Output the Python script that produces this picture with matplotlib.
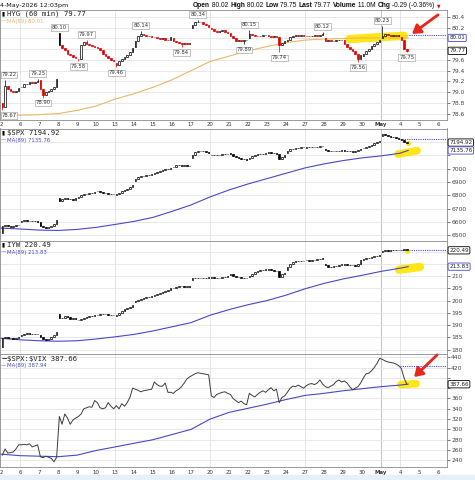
import matplotlib
matplotlib.use("Agg")
import matplotlib.pyplot as plt
import matplotlib.transforms as mtransforms
from matplotlib.patches import Rectangle
import numpy as np

W, H = 475, 480

# trading days on the x axis (2-Apr-2026 .. 6-May-2026), 7 hourly bars per day
day_labels = ["2", "6", "7", "8", "9", "10", "13", "14", "15", "16", "17", "20", "21",
              "22", "23", "24", "27", "28", "29", "30", "May", "4", "5", "6"]
week_lines = [1, 6, 11, 16, 20, 21]

# HYG 60 min closes, one row per day
hyg_close = [
    [78.72, 79.12, 79.05, 79.02, 79.00, 79.03, 79.08],
    [79.10, 79.15, 79.16, 79.18, 79.17, 79.19, 79.20],
    [79.05, 78.95, 79.00, 79.03, 79.06, 79.10, 79.24],
    [79.88, 79.82, 79.78, 79.72, 79.70, 79.66, 79.64],
    [79.62, 79.88, 79.93, 79.90, 79.88, 79.86, 79.84],
    [79.82, 79.78, 79.72, 79.68, 79.64, 79.60, 79.58],
    [79.50, 79.58, 79.62, 79.65, 79.70, 79.75, 79.82],
    [79.95, 80.05, 80.08, 80.06, 80.05, 80.04, 80.03],
    [80.02, 80.01, 79.99, 80.00, 79.98, 79.97, 80.02],
    [79.96, 79.93, 79.92, 79.90, 79.91, 79.90, 79.92],
    [80.25, 80.30, 80.31, 80.30, 80.27, 80.25, 80.22],
    [80.18, 80.14, 80.12, 80.14, 80.15, 80.13, 80.10],
    [80.05, 80.00, 79.96, 79.98, 79.95, 79.97, 79.98],
    [80.08, 80.06, 80.05, 80.05, 80.04, 80.06, 80.07],
    [80.05, 80.03, 80.04, 80.02, 79.88, 79.92, 79.95],
    [79.97, 80.02, 80.05, 80.06, 80.05, 80.06, 80.05],
    [80.05, 80.04, 80.05, 80.06, 80.05, 80.07, 80.08],
    [79.96, 79.97, 79.96, 79.96, 79.97, 79.97, 79.98],
    [79.90, 79.85, 79.80, 79.76, 79.72, 79.62, 79.70],
    [79.72, 79.76, 79.80, 79.86, 79.90, 79.93, 79.98],
    [80.05, 80.08, 80.06, 80.05, 80.06, 80.04, 80.06],
    [79.98, 79.80, 79.77],
]
hyg_day_open = [78.80, 79.10, 79.22, 80.10, 79.62, 79.84, 79.55, 79.85, 80.03, 80.00, 80.20,
                80.20, 80.10, 80.00, 80.07, 79.95, 80.05, 80.00, 79.98, 79.68, 80.00, 80.02]
hyg_ma = [78.55, 78.57, 78.58, 78.60, 78.66, 78.74, 78.87, 78.97, 79.09, 79.23, 79.40, 79.57,
          79.67, 79.77, 79.85, 79.92, 79.97, 79.99, 80.00, 80.01, 80.01, 80.01, 80.01]
# labelled swing highs / lows: (bar, value, kind)
hyg_marks = [(1, 79.22, "H"), (0, 78.67, "L"), (13, 79.25, "H"), (15, 78.90, "L"),
             (21, 80.10, "H"), (31, 79.97, "H"), (28, 79.58, "L"), (42, 79.46, "L"),
             (51, 80.14, "H"), (66, 79.84, "L"), (72, 80.34, "H"), (89, 79.89, "L"),
             (91, 80.15, "H"), (102, 79.74, "L"), (118, 80.12, "H"), (131, 79.56, "L"),
             (140, 80.23, "H"), (149, 79.75, "L")]

spx_close = [
    [6570, 6575, 6568, 6565, 6570, 6575, 6580],
    [6605, 6612, 6608, 6605, 6610, 6606, 6604],
    [6570, 6560, 6555, 6565, 6570, 6585, 6612],
    [6755, 6770, 6780, 6770, 6775, 6768, 6782],
    [6785, 6800, 6810, 6808, 6815, 6820, 6825],
    [6832, 6825, 6820, 6815, 6812, 6810, 6808],
    [6810, 6820, 6830, 6840, 6850, 6860, 6880],
    [6920, 6935, 6945, 6948, 6950, 6955, 6960],
    [6965, 6975, 6985, 6990, 6995, 7000, 7005],
    [7015, 7025, 7030, 7022, 7025, 7020, 7018],
    [7100, 7125, 7135, 7130, 7128, 7122, 7118],
    [7105, 7100, 7102, 7105, 7108, 7110, 7112],
    [7110, 7095, 7085, 7080, 7075, 7070, 7068],
    [7080, 7095, 7105, 7108, 7110, 7112, 7115],
    [7122, 7118, 7115, 7110, 7070, 7085, 7100],
    [7130, 7145, 7150, 7152, 7155, 7158, 7160],
    [7158, 7160, 7162, 7160, 7165, 7168, 7172],
    [7140, 7135, 7130, 7128, 7132, 7135, 7138],
    [7135, 7130, 7128, 7125, 7130, 7140, 7150],
    [7155, 7165, 7170, 7180, 7190, 7200, 7210],
    [7258, 7250, 7245, 7240, 7235, 7228, 7222],
    [7215, 7200, 7194.92],
]
spx_day_open = [6515, 6600, 6600, 6780, 6780, 6830, 6800, 6905, 6962, 7010, 7080,
                7100, 7115, 7075, 7120, 7120, 7155, 7150, 7140, 7152, 7245, 7222]
spx_ma = [6555, 6548, 6540, 6537, 6545, 6560, 6582, 6605, 6635, 6680, 6728, 6788,
          6840, 6885, 6925, 6965, 7005, 7035, 7060, 7080, 7095, 7115, 7135.76]

iyw_close = [
    [184.8, 185.2, 184.8, 184.6, 184.5, 184.7, 185.0],
    [185.8, 186.3, 186.6, 186.5, 186.2, 186.4, 186.3],
    [185.0, 184.2, 183.9, 184.5, 185.0, 185.8, 187.2],
    [193.0, 192.8, 193.5, 193.2, 192.5, 192.8, 192.3],
    [192.2, 192.6, 193.0, 193.2, 193.5, 193.8, 194.0],
    [194.3, 194.6, 194.5, 194.4, 194.3, 194.2, 194.0],
    [194.2, 195.0, 195.8, 196.5, 197.0, 197.5, 198.2],
    [199.8, 200.3, 200.8, 201.0, 201.3, 201.5, 201.8],
    [202.3, 202.8, 203.2, 203.5, 204.0, 204.5, 205.0],
    [205.2, 205.5, 205.8, 206.0, 205.6, 205.8, 205.5],
    [209.0, 209.3, 209.2, 209.0, 209.2, 209.4, 209.5],
    [209.6, 209.3, 209.0, 209.2, 209.5, 209.8, 210.0],
    [210.8, 210.2, 209.8, 209.5, 209.3, 209.0, 209.2],
    [210.0, 210.8, 211.5, 212.0, 212.3, 212.5, 212.8],
    [212.8, 212.6, 212.2, 212.0, 209.8, 210.8, 211.2],
    [213.5, 215.0, 215.8, 216.0, 216.2, 216.3, 216.2],
    [216.5, 216.3, 216.5, 216.7, 216.8, 217.0, 217.4],
    [214.5, 213.8, 213.6, 214.0, 214.3, 214.6, 214.8],
    [214.8, 214.5, 214.4, 214.6, 214.2, 214.8, 216.5],
    [216.8, 217.2, 217.5, 217.8, 218.0, 218.3, 218.6],
    [220.3, 220.6, 220.4, 220.5, 220.7, 220.8, 220.5],
    [220.8, 220.9, 220.49],
]
iyw_day_open = [181.0, 185.5, 186.0, 194.5, 192.0, 194.3, 193.8, 199.5, 202.0, 205.0, 208.5,
                209.4, 210.5, 209.6, 212.6, 212.5, 216.6, 215.0, 214.6, 216.5, 219.8, 220.6]
iyw_ma = [184.6, 184.0, 183.6, 183.4, 183.6, 184.3, 185.2, 186.2, 187.6, 189.3, 191.0, 194.0,
          196.3, 198.3, 200.0, 202.2, 204.8, 207.0, 208.8, 210.3, 211.9, 213.2, 213.83]

ratio_close = [
    [250, 262, 254, 255, 256, 262, 270],
    [270, 271, 270, 272, 266, 268, 270],
    [247, 245, 248, 246, 244, 237, 246],
    [325, 310, 330, 322, 310, 318, 322],
    [325, 330, 340, 342, 344, 343, 356],
    [352, 342, 340, 342, 352, 345, 340],
    [346, 340, 350, 345, 352, 362, 380],
    [378, 376, 373, 375, 376, 377, 378],
    [392, 387, 384, 384, 390, 372, 372],
    [370, 375, 378, 383, 390, 398, 402],
    [405, 408, 410, 409, 408, 407, 406],
    [365, 362, 368, 370, 372, 373, 370],
    [368, 360, 356, 352, 355, 350, 348],
    [370, 366, 363, 368, 372, 375, 372],
    [377, 381, 375, 378, 352, 362, 365],
    [372, 380, 384, 383, 386, 383, 380],
    [385, 388, 389, 387, 390, 396, 388],
    [383, 381, 384, 387, 393, 396, 392],
    [394, 390, 383, 377, 380, 383, 390],
    [400, 408, 409, 414, 420, 428, 438],
    [436, 433, 431, 430, 429, 427, 424],
    [418, 400, 387.66],
]
ratio_ma = [252, 249, 248, 247, 250, 259, 266, 273, 280, 290, 300, 320, 333, 341, 349, 358,
            366, 370, 375, 379, 383, 386, 387.94]

BLUE = "#4848c8"
ORANGE = "#e9b765"
YELLOW = "#ffe400"
RED = "#e8261c"

fig = plt.figure(figsize=(W / 100, H / 100), dpi=100)


def panel(top, bottom):
    return fig.add_axes([0, 1 - bottom / H, 447 / W, (bottom - top) / H])


def bar_x(n):
    j = np.arange(n)
    return j // 7 + (j % 7 + 0.5) / 7


ma_x = np.r_[np.arange(22), 21 + 3 / 7]


def setup(ax, ylim, ticks, fmt, show_dates):
    ax.set_xlim(-1 / 19, 446 / 19)
    ax.set_ylim(*ylim)
    ax.set_yticks(ticks)
    ax.set_yticklabels([fmt % t for t in ticks])
    ax.yaxis.tick_right()
    ax.tick_params(axis="y", length=2, width=0.5, colors="#444", labelsize=4.3, pad=1)
    ax.grid(axis="y", color="#e4e4e4", lw=0.6)
    for d in week_lines:
        ax.axvline(d, color="#b8b8b8" if d == 20 else "#e0e0e0", lw=0.6, zorder=0.6)
    ax.set_xticks(range(len(day_labels)))
    if show_dates:
        ax.set_xticklabels(day_labels)
        for lab in ax.get_xticklabels():
            if lab.get_text() == "May":
                lab.set_fontweight("bold")
    else:
        ax.set_xticklabels([])
    ax.tick_params(axis="x", length=0, labelsize=3.9, pad=2, colors="#333")
    for s in ax.spines.values():
        s.set_color("#8a8a8a")
        s.set_linewidth(0.6)


def candles(ax, closes, day_opens, colored, marks=()):
    c = np.concatenate([np.array(r, float) for r in closes])
    o = np.r_[c[0], c[:-1]]
    start = 0
    for d, r in enumerate(closes):
        o[start] = day_opens[d]
        start += len(r)
    x = bar_x(len(c))
    hi = np.maximum(o, c)
    lo = np.minimum(o, c)
    for j, v, kind in marks:
        if kind == "H":
            hi[j] = max(hi[j], v)
        else:
            lo[j] = min(lo[j], v)
    prev = np.r_[o[0], c[:-1]]
    cols = [("#e00000" if (colored and c[i] < prev[i]) else "black") for i in range(len(c))]
    fills = [cols[i] if c[i] < o[i] else "white" for i in range(len(c))]
    ax.vlines(x, lo, hi, colors=cols, lw=0.5, zorder=3)
    ax.bar(x, np.abs(c - o), bottom=np.minimum(o, c), width=0.62 / 7, color=fills,
           edgecolor=cols, linewidth=0.5, zorder=3.5)
    return x, c


def value_box(ax, v, text, edge):
    tr = mtransforms.blended_transform_factory(ax.transAxes, ax.transData)
    ax.text(1.005, v, text, transform=tr, fontsize=4.1, color="#222", va="center", ha="left",
            bbox=dict(boxstyle="round,pad=0.2", fc="white", ec=edge, lw=0.6), zorder=10,
            clip_on=False)
    # hide axis labels that the box sits on
    lo, hi = ax.get_ylim()
    px_per_unit = ax.get_position().height * H / (hi - lo)
    for lab, t in zip(ax.get_yticklabels(), ax.get_yticks()):
        if abs(t - v) * px_per_unit < 7:
            lab.set_visible(False)


def legend(ax, icon, icon_color, name, ma_text, ma_color):
    ax.annotate(icon, xy=(0, 1), xycoords="axes fraction", xytext=(2, -4.5),
                textcoords="offset pixels", fontsize=4, color=icon_color, va="center",
                ha="left", fontweight="bold")
    ax.annotate(name, xy=(0, 1), xycoords="axes fraction", xytext=(7, -4.5),
                textcoords="offset pixels", fontsize=5.2, family="DejaVu Sans Mono",
                color="#222", va="center", ha="left")
    ax.annotate("\u2014", xy=(0, 1), xycoords="axes fraction", xytext=(1, -11.5),
                textcoords="offset pixels", fontsize=4, color=ma_color, va="center", ha="left")
    ax.annotate(ma_text, xy=(0, 1), xycoords="axes fraction", xytext=(7, -11.5),
                textcoords="offset pixels", fontsize=3.9, color=ma_color, va="center",
                ha="left")


def prev_close_line(ax, closes):
    ax.plot([21, 446 / 19], [closes[-2][-1]] * 2, ls=(0, (1, 1)), color="#4a4ae8", lw=0.8,
            zorder=2)


def highlight(ax, xs, ys, lw):
    ax.plot(xs, ys, color=YELLOW, lw=lw, alpha=0.92, solid_capstyle="round", zorder=2.5)


def arrow(ax, start, end):
    ax.annotate("", xy=end, xytext=start, annotation_clip=False,
                arrowprops=dict(arrowstyle="-|>,head_length=0.55,head_width=0.35",
                                color=RED, lw=2.0, mutation_scale=9, shrinkA=0, shrinkB=0),
                zorder=12)


# ---- HYG
ax1 = panel(9.5, 119.5)
setup(ax1, (78.49, 80.54), np.round(np.arange(78.6, 80.41, 0.2), 1), "%.1f", True)
highlight(ax1, [18.35, 21.2], [79.99, 80.05], 6)
ax1.plot(ma_x, hyg_ma, color=ORANGE, lw=0.8, zorder=2.8)
prev_close_line(ax1, hyg_close)
hx, hc = candles(ax1, hyg_close, hyg_day_open, True, hyg_marks)
for j, v, kind in hyg_marks:
    up = kind == "H"
    near_edge = hx[j] < 0.4
    ax1.annotate("%.2f" % v, xy=(0.02 if near_edge else hx[j], v), xytext=(0, 3 if up else -3),
                 textcoords="offset pixels", ha="left" if near_edge else "center",
                 va="bottom" if up else "top", fontsize=3.8, color="#333", zorder=6,
                 bbox=dict(boxstyle="square,pad=0.15", fc="white", ec="#aaaaaa", lw=0.5))
value_box(ax1, hyg_ma[-1], "%.2f" % hyg_ma[-1], BLUE)
value_box(ax1, hc[-1], "%.2f" % hc[-1], "black")
legend(ax1, "\u25ae", "black", "HYG (60 min) %.2f" % hc[-1], "MA(89) %.2f" % hyg_ma[-1], ORANGE)
arrow(ax1, (23.0, 80.44), (21.63, 80.085))

# header line above the first panel
fig.text(0, 1 - 5.5 / H, "4-May-2026 12:03pm", fontsize=4.6, color="#111", va="center")
header = [("Open", "bold"), (" 80.02 ", "normal"), ("High", "bold"), (" 80.02 ", "normal"),
          ("Low", "bold"), (" 79.75 ", "normal"), ("Last", "bold"), (" 79.77 ", "normal"),
          ("Volume", "bold"), (" 11.0M ", "normal"), ("Chg", "bold"),
          (" -0.29 (-0.36%) ", "normal")]
prev = fig.text(193 / W, 1 - 5.5 / H, header[0][0], fontsize=4.8, fontweight="bold",
                family="Liberation Sans", va="center", color="#111")
for s, wgt in header[1:]:
    prev = ax1.annotate(s, xy=(1, 0), xycoords=prev, va="bottom", ha="left", fontsize=4.8,
                        family="Liberation Sans", fontweight=wgt, color="#111",
                        annotation_clip=False)
ax1.annotate("\u25bc", xy=(1, 0.1), xycoords=prev, va="bottom", ha="left", fontsize=3.3,
             color="#c0102a", annotation_clip=False)

# ---- $SPX
ax2 = panel(128.5, 240.5)
setup(ax2, (6462, 7300), np.arange(6500, 7201, 100), "%d", False)
highlight(ax2, [20.9, 21.9], [7109, 7134], 5.5)
ax2.plot(ma_x, spx_ma, color=BLUE, lw=0.8, zorder=2.8)
prev_close_line(ax2, spx_close)
sx, sc = candles(ax2, spx_close, spx_day_open, False)
ax2.plot([sx[-1] + 0.05], [sc[-1] - 3], "o", color=YELLOW, ms=2.5, zorder=3.2)
value_box(ax2, sc[-1], "%.2f" % sc[-1], "black")
value_box(ax2, spx_ma[-1], "%.2f" % spx_ma[-1], BLUE)
legend(ax2, "\u25ae", "black", "\\$SPX %.2f" % sc[-1], "MA(89) %.2f" % spx_ma[-1], BLUE)

# ---- IYW
ax3 = panel(240.5, 354)
setup(ax3, (178.2, 224.5), np.arange(180, 221, 5), "%d", False)
highlight(ax3, [20.95, 22.05], [212.6, 213.7], 6)
ax3.plot(ma_x, iyw_ma, color=BLUE, lw=0.8, zorder=2.8)
prev_close_line(ax3, iyw_close)
ix, ic = candles(ax3, iyw_close, iyw_day_open, False)
ax3.plot([ix[-1]], [ic[-1] - 0.2], "o", color=YELLOW, ms=2.5, zorder=3.2)
value_box(ax3, ic[-1], "%.2f" % ic[-1], "black")
value_box(ax3, iyw_ma[-1], "%.2f" % iyw_ma[-1], BLUE)
legend(ax3, "\u25ae", "black", "IYW %.2f" % ic[-1], "MA(89) %.2f" % iyw_ma[-1], BLUE)

# ---- $SPX:$VIX
ax4 = panel(354, 467)
setup(ax4, (227, 446.4), np.arange(240, 441, 20), "%d", True)
highlight(ax4, [21.05, 21.85], [387.0, 388.8], 5.5)
ax4.plot(ma_x, ratio_ma, color=BLUE, lw=0.8, zorder=2.8)
prev_close_line(ax4, ratio_close)
rc = np.concatenate([np.array(r, float) for r in ratio_close])
ax4.plot(bar_x(len(rc)), rc, color="#3c3c3c", lw=0.7, zorder=3)
value_box(ax4, rc[-1], "%.2f" % rc[-1], "black")
legend(ax4, "\u2014", "black", "\\$SPX:\\$VIX %.2f" % rc[-1], "MA(89) %.2f" % ratio_ma[-1], BLUE)
arrow(ax4, (22.95, 444.5), (21.74, 401.7))

fig.patches.append(Rectangle((0, 0), 1, 5 / H, transform=fig.transFigure,
                             color="#e7eff8", zorder=0))

fig.savefig("out.png", dpi=100)
